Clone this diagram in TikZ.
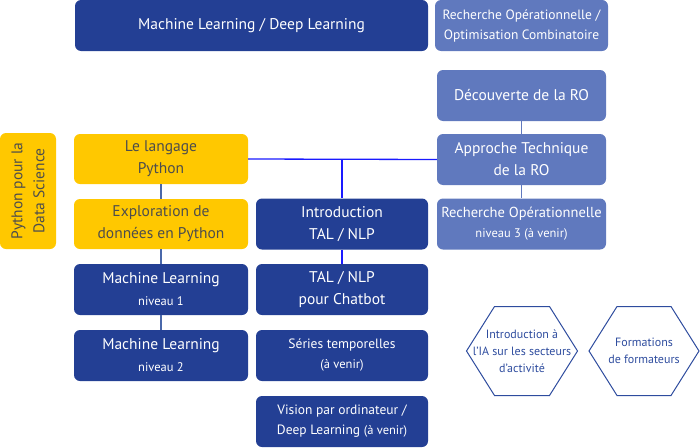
\documentclass[tikz,border=0pt]{standalone}
\usepackage{fontspec}
\setmainfont{PT Sans}
\usetikzlibrary{calc}
\definecolor{mlblue}{HTML}{233F94}
\definecolor{roblue}{HTML}{6079BE}
\definecolor{pyyellow}{HTML}{FFC800}
\definecolor{pygrey}{HTML}{4D4D4D}
\definecolor{linkblue}{HTML}{1A1AFF}
\definecolor{slate}{HTML}{4A68AA}
\definecolor{hexblue}{HTML}{2E4C9E}
\newcommand{\grand}{\fontsize{15.5}{22}\selectfont}
\newcommand{\moyen}{\fontsize{13.5}{20}\selectfont}
\newcommand{\petit}{\fontsize{12.5}{17}\selectfont}

\begin{document}
\begin{tikzpicture}[x=1pt, y=-1pt,
    box/.style={rounded corners=6pt, align=center, inner sep=0pt, font=\grand},
    mlbox/.style={box, fill=mlblue, text=white, minimum width=172pt, minimum height=51pt},
    robox/.style={box, fill=roblue, text=white, minimum width=169pt, minimum height=51pt},
    pybox/.style={box, fill=pyyellow, text=pygrey, minimum width=174pt, minimum height=50pt},
    hextext/.style={align=center, text=hexblue, font=\fontsize{12}{17}\selectfont},
    hexline/.style={draw=hexblue, line width=1pt, line join=miter}]

        \useasboundingbox (0,0) rectangle (700,447);

        \node[mlbox, minimum width=353pt] (mldl) at (251.5,25.5) {Machine Learning / Deep Learning};
        \node[robox, minimum width=173pt, font=\moyen] (rooc) at (521.5,25.5)
            {Recherche Opérationnelle /\\Optimisation Combinatoire};

        \node[robox] (decouv) at (521.5,95.5) {Découverte de la RO};
        \node[robox] (approche) at (521.5,159.5) {Approche Technique\\de la RO};
        \node[robox, font=\fontsize{14.5}{20}\selectfont] (ro3) at (521.5,224)
            {Recherche Opérationnelle\\{\petit niveau 3 (à venir)}};

        \node[pybox, minimum width=116pt, minimum height=56pt, rotate=90] (pyds) at (28,191)
            {Python pour la\\Data Science};
        \node[pybox] (langage) at (161,159) {Le langage\\Python};
        \node[pybox] (explo) at (161,224) {Exploration de\\données en Python};

        \node[mlbox, minimum width=174pt] (ml1) at (161,289.5) {Machine Learning\\{\petit niveau 1}};
        \node[mlbox, minimum width=174pt] (ml2) at (161,355.5) {Machine Learning\\{\petit niveau 2}};

        \node[mlbox] (intro) at (342,224) {Introduction\\TAL / NLP};
        \node[mlbox] (chatbot) at (342,289.5) {TAL / NLP\\pour Chatbot};
        \node[mlbox, font=\moyen] (series) at (342,355.5)
            {Séries temporelles\\{\petit (à venir)}};
        \node[mlbox, font=\moyen] (vision) at (342,421.5)
            {Vision par ordinateur /\\Deep Learning {\petit (à venir)}};

        \node[hextext] (ia) at (522,351) {Introduction à\\l’IA sur les secteurs\\d’activité};
        \node[hextext] (form) at (644,351) {Formations\\de formateurs};

        \draw[hexline] ($(ia)+(-55.5,0)$) -- ++(28,-44.5) -- ++(55,0) -- ++(28,44.5)
            -- ++(-28,44.5) -- ++(-55,0) -- cycle;
        \draw[hexline] ($(form)+(-55,0)$) -- ++(28,-44.5) -- ++(54,0) -- ++(28,44.5)
            -- ++(-28,44.5) -- ++(-54,0) -- cycle;

        \draw[slate, line width=1.3pt] (langage) -- (explo);
        \draw[slate, line width=1.3pt] (explo) -- (ml1);
        \draw[slate, line width=1.3pt] (ml1) -- (ml2);

        \draw[roblue, line width=1.3pt] (decouv) -- (approche);
        \draw[roblue, line width=1.3pt] (approche) -- (ro3);

        \coordinate (jonction) at (intro.north |- langage.east);
        \draw[linkblue, line width=1.3pt] (langage.east) -- (approche.west);
        \draw[linkblue, line width=1.3pt] (jonction) -- (intro);
        \draw[linkblue, line width=1.3pt] (intro) -- (chatbot);

    \end{tikzpicture}
\end{document}
